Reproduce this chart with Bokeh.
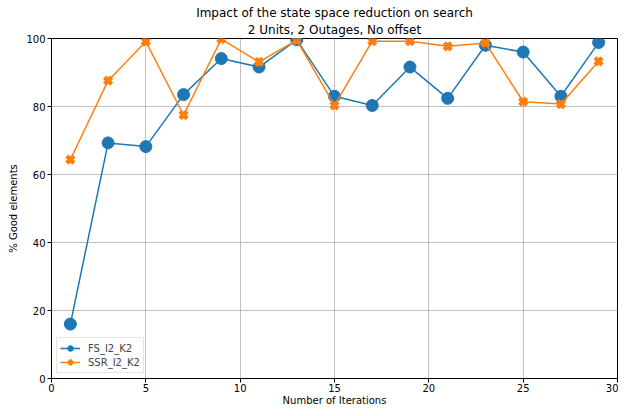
from bokeh.plotting import figure
from bokeh.embed import file_html
from bokeh.resources import INLINE
from bokeh.models import FixedTicker, Range1d, Title

iterations = [1, 3, 5, 7, 9, 11, 13, 15, 17, 19, 21, 23, 25, 27, 29]
fs_values = [16.0, 69.3, 68.2, 83.5, 94.1, 91.6, 99.6, 83.0, 80.3, 91.6, 82.4, 98.0, 96.0, 83.0, 98.8]
ssr_values = [64.4, 87.6, 99.1, 77.5, 99.8, 93.1, 99.5, 80.3, 99.2, 99.2, 97.7, 98.7, 81.4, 80.7, 93.3]
x_ticks = [0, 5, 10, 15, 20, 25, 30]
y_ticks = [0, 20, 40, 60, 80, 100]

FONT = "DejaVu Sans"

p = figure(width=618, height=408, output_backend="svg", toolbar_location=None,
           x_range=Range1d(0, 30), y_range=Range1d(0, 100),
           min_border_left=51, min_border_right=1, min_border_top=38, min_border_bottom=30)
p.title = None
p.add_layout(Title(text="2 Units, 2 Outages, No offset", align="center",
                   text_font=FONT, text_font_size="12px", text_font_style="normal",
                   text_color="black", standoff=3), "above")
p.add_layout(Title(text="Impact of the state space reduction on search", align="center",
                   text_font=FONT, text_font_size="12px", text_font_style="normal",
                   text_color="black", standoff=0), "above")

blue = "#1f77b4"
orange = "#ff7f0e"

p.line(iterations, fs_values, color=blue, line_width=1.5, legend_label="FS_I2_K2")
p.scatter(iterations, fs_values, marker="circle", size=12, fill_color=blue, line_color=blue,
          legend_label="FS_I2_K2")
p.line(iterations, ssr_values, color=orange, line_width=1.5, legend_label="SSR_I2_K2")
p.scatter(iterations, ssr_values, marker="x", size=10, line_color=orange, line_width=4.5,
          legend_label="SSR_I2_K2")

for ax in (p.xaxis[0], p.yaxis[0]):
    ax.major_tick_in = 0
    ax.major_tick_out = 4
    ax.minor_tick_line_color = None
    ax.major_label_standoff = 2
    ax.major_label_text_font = FONT
    ax.major_label_text_font_size = "10px"
    ax.major_label_text_color = "black"
    ax.axis_label_text_font = FONT
    ax.axis_label_text_font_size = "10px"
    ax.axis_label_text_font_style = "normal"
    ax.axis_label_text_color = "black"
    ax.axis_line_color = "black"
    ax.major_tick_line_color = "black"

p.xaxis.ticker = FixedTicker(ticks=x_ticks)
p.yaxis.ticker = FixedTicker(ticks=y_ticks)
p.xaxis.axis_label = "Number of Iterations"
p.yaxis.axis_label = "% Good elements"
p.xaxis.major_label_standoff = 1
p.xaxis.axis_label_standoff = 0
p.yaxis.axis_label_standoff = 4

p.xgrid.grid_line_color = "#b0b0b0"
p.ygrid.grid_line_color = "#b0b0b0"
p.xgrid.grid_line_width = 0.8
p.ygrid.grid_line_width = 0.8
p.outline_line_color = "black"
p.outline_line_width = 1

p.legend.location = "bottom_left"
p.legend.label_text_font = FONT
p.legend.label_text_font_size = "10px"
p.legend.border_line_color = "#cccccc"
p.legend.background_fill_alpha = 0.8
p.legend.glyph_width = 20
p.legend.glyph_height = 14
p.legend.label_height = 14
p.legend.label_standoff = 8
p.legend.spacing = 0
p.legend.padding = 3
p.legend.margin = 5

open("out.html", "w").write(file_html(p, INLINE))
